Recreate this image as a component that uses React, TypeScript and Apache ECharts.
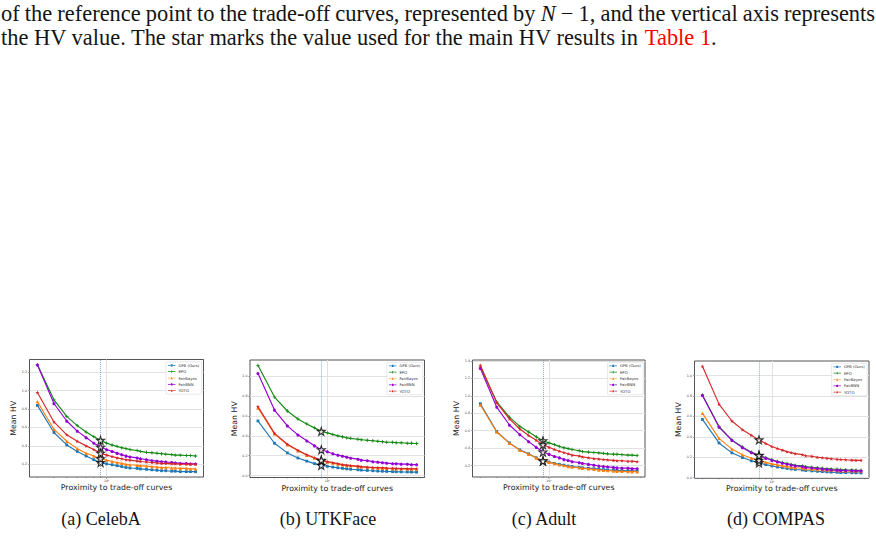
import React, { useEffect, useRef } from "react";
import * as echarts from "echarts";

// ---- text ----
const paragraphLine1 =
  "of the reference point to the trade-off curves, represented by N − 1, and the vertical axis represents";
const paragraphLine2Lead = "the HV value. The star marks the value used for the main HV results in ";
const paragraphLine2Link = "Table 1";
const paragraphLine2Tail = ".";
const captions = ["(a) CelebA", "(b) UTKFace", "(c) Adult", "(d) COMPAS"];

// ---- shared series info ----
const methods = ["GFB (Ours)", "EPO", "FairBayes", "FairBNN", "YOTO"];
const proximity = [3, 4, 5, 6, 7, 8, 9, 10, 11, 12, 13, 14, 15, 17, 18, 20, 22, 24, 26, 28, 31, 33, 36, 40, 43, 47];
const xTickValues = [3, 4, 5, 6, 7, 8, 9, 10, 20, 30, 40, 50];
const starProximity = [9, 9, 9, 8];

// ---- CelebA ----
const celebaGfb = [0.84, 0.545, 0.41, 0.34, 0.29, 0.25, 0.22, 0.205, 0.195, 0.185, 0.175, 0.165, 0.16, 0.155, 0.15, 0.145, 0.14, 0.135, 0.13, 0.13, 0.125, 0.125, 0.12, 0.12, 0.12, 0.12];
const celebaEpo = [1.28, 0.9, 0.72, 0.62, 0.55, 0.5, 0.46, 0.43, 0.41, 0.395, 0.38, 0.37, 0.36, 0.35, 0.34, 0.33, 0.325, 0.32, 0.315, 0.31, 0.305, 0.3, 0.3, 0.295, 0.295, 0.29];
const celebaFairBayes = [0.88, 0.58, 0.45, 0.37, 0.32, 0.29, 0.26, 0.245, 0.23, 0.22, 0.21, 0.2, 0.195, 0.19, 0.185, 0.18, 0.175, 0.17, 0.165, 0.165, 0.16, 0.16, 0.155, 0.155, 0.15, 0.15];
const celebaFairBnn = [1.28, 0.86, 0.67, 0.56, 0.49, 0.43, 0.385, 0.36, 0.34, 0.32, 0.305, 0.29, 0.28, 0.27, 0.26, 0.25, 0.24, 0.235, 0.23, 0.225, 0.22, 0.215, 0.21, 0.21, 0.205, 0.205];
const celebaYoto = [0.98, 0.66, 0.52, 0.45, 0.4, 0.36, 0.32, 0.3, 0.285, 0.27, 0.26, 0.25, 0.245, 0.235, 0.23, 0.225, 0.22, 0.215, 0.21, 0.21, 0.205, 0.205, 0.2, 0.2, 0.2, 0.2];

// ---- UTKFace ----
const utkGfb = [0.55, 0.325, 0.228, 0.177, 0.145, 0.12, 0.103, 0.093, 0.085, 0.078, 0.072, 0.067, 0.063, 0.058, 0.055, 0.051, 0.048, 0.045, 0.043, 0.041, 0.039, 0.038, 0.037, 0.036, 0.035, 0.034];
const utkEpo = [1.11, 0.79, 0.65, 0.57, 0.52, 0.48, 0.445, 0.43, 0.415, 0.4, 0.39, 0.38, 0.375, 0.365, 0.36, 0.355, 0.35, 0.345, 0.34, 0.335, 0.335, 0.33, 0.33, 0.325, 0.325, 0.323];
const utkFairBayes = [0.68, 0.42, 0.31, 0.25, 0.205, 0.175, 0.15, 0.135, 0.125, 0.115, 0.108, 0.1, 0.097, 0.09, 0.087, 0.082, 0.079, 0.076, 0.074, 0.072, 0.07, 0.068, 0.067, 0.066, 0.065, 0.065];
const utkFairBnn = [1.03, 0.66, 0.5, 0.41, 0.35, 0.3, 0.26, 0.24, 0.22, 0.205, 0.195, 0.185, 0.175, 0.165, 0.155, 0.15, 0.14, 0.135, 0.13, 0.125, 0.12, 0.12, 0.115, 0.115, 0.11, 0.11];
const utkYoto = [0.695, 0.425, 0.315, 0.255, 0.21, 0.18, 0.155, 0.14, 0.13, 0.12, 0.11, 0.105, 0.1, 0.095, 0.09, 0.085, 0.082, 0.08, 0.078, 0.075, 0.073, 0.072, 0.07, 0.07, 0.068, 0.068];

// ---- Adult ----
const adultGfb = [0.91, 0.59, 0.46, 0.38, 0.335, 0.29, 0.255, 0.24, 0.225, 0.215, 0.205, 0.195, 0.19, 0.18, 0.175, 0.17, 0.165, 0.16, 0.155, 0.15, 0.148, 0.145, 0.143, 0.14, 0.14, 0.138];
const adultEpo = [1.33, 0.93, 0.755, 0.65, 0.585, 0.53, 0.485, 0.46, 0.44, 0.42, 0.405, 0.395, 0.385, 0.37, 0.36, 0.355, 0.35, 0.345, 0.34, 0.335, 0.33, 0.33, 0.325, 0.32, 0.32, 0.315];
const adultFairBayes = [0.895, 0.585, 0.455, 0.375, 0.33, 0.287, 0.252, 0.237, 0.222, 0.21, 0.2, 0.19, 0.183, 0.175, 0.168, 0.162, 0.156, 0.15, 0.146, 0.142, 0.138, 0.135, 0.133, 0.131, 0.13, 0.13];
const adultFairBnn = [1.315, 0.87, 0.665, 0.555, 0.475, 0.41, 0.355, 0.33, 0.305, 0.29, 0.27, 0.26, 0.245, 0.235, 0.225, 0.215, 0.205, 0.195, 0.19, 0.185, 0.18, 0.175, 0.17, 0.17, 0.165, 0.165];
const adultYoto = [1.35, 0.92, 0.735, 0.62, 0.545, 0.49, 0.44, 0.41, 0.385, 0.365, 0.35, 0.335, 0.32, 0.31, 0.3, 0.29, 0.28, 0.275, 0.27, 0.265, 0.26, 0.255, 0.255, 0.25, 0.25, 0.245];

// ---- COMPAS ----
const compasGfb = [0.57, 0.34, 0.243, 0.197, 0.165, 0.145, 0.128, 0.115, 0.105, 0.097, 0.09, 0.085, 0.08, 0.075, 0.07, 0.066, 0.062, 0.059, 0.056, 0.054, 0.052, 0.05, 0.049, 0.048, 0.047, 0.046];
const compasEpo = [0.81, 0.5, 0.37, 0.3, 0.25, 0.22, 0.195, 0.175, 0.16, 0.148, 0.138, 0.13, 0.122, 0.115, 0.108, 0.102, 0.097, 0.092, 0.088, 0.085, 0.082, 0.08, 0.077, 0.075, 0.073, 0.072];
const compasFairBayes = [0.63, 0.385, 0.28, 0.225, 0.19, 0.17, 0.15, 0.135, 0.125, 0.115, 0.108, 0.102, 0.097, 0.092, 0.087, 0.083, 0.079, 0.076, 0.073, 0.071, 0.069, 0.067, 0.065, 0.064, 0.063, 0.062];
const compasFairBnn = [0.805, 0.495, 0.365, 0.295, 0.245, 0.215, 0.19, 0.17, 0.155, 0.142, 0.132, 0.123, 0.115, 0.108, 0.1, 0.095, 0.09, 0.085, 0.08, 0.077, 0.074, 0.072, 0.07, 0.068, 0.067, 0.066];
const compasYoto = [1.09, 0.72, 0.555, 0.47, 0.415, 0.37, 0.335, 0.305, 0.285, 0.27, 0.255, 0.245, 0.235, 0.225, 0.215, 0.21, 0.2, 0.195, 0.19, 0.185, 0.18, 0.178, 0.175, 0.172, 0.17, 0.17];

const panelSeries = [
  [celebaGfb, celebaEpo, celebaFairBayes, celebaFairBnn, celebaYoto],
  [utkGfb, utkEpo, utkFairBayes, utkFairBnn, utkYoto],
  [adultGfb, adultEpo, adultFairBayes, adultFairBnn, adultYoto],
  [compasGfb, compasEpo, compasFairBayes, compasFairBnn, compasYoto],
];

// ---- layout & style ----
const W = 876;
const H = 536;
const gridBoxes = [
  { left: 29.5, top: 359.5, width: 174, height: 117.5 },
  { left: 250, top: 360, width: 174.5, height: 117.5 },
  { left: 472.5, top: 360, width: 172.5, height: 117 },
  { left: 694.5, top: 361, width: 174.5, height: 117.3 },
];
const captionCenters = [101, 328, 544, 776];
const colors = ["#1f77b4", "#138a13", "#ff7f0e", "#9400d3", "#d62728"];
const STAR =
  "path://M50,2L61.2,36.2L97.6,36.5L68.5,58.2L79.4,93L50,71.8L20.6,93L31.5,58.2L2.4,36.5L38.8,36.2Z";
const PLUS = "path://M3,0H5V3H8V5H5V8H3V5H0V3H3Z";
const PENTAGON = "path://M50,0L98,35L79,91L21,91L2,35Z";
const symbols = ["rect", PLUS, "triangle", PENTAGON, STAR];
const symbolSizes = [2.8, 3.4, 3.4, 3.3, 3.9];
// legend keys: short line, marker, short line (20 x 8 box)
const KEY_LINE = "M0,3.1H6.2V4.9H0Z M13.8,3.1H20V4.9H13.8Z";
const legendIcons = [
  `path://${KEY_LINE} M7.2,1.2H12.8V6.8H7.2Z`,
  `path://${KEY_LINE} M9.1,0.6H10.9V3.1H13.4V4.9H10.9V7.4H9.1V4.9H6.6V3.1H9.1Z`,
  `path://${KEY_LINE} M10,0.6L13.4,7.2H6.6Z`,
  `path://${KEY_LINE} M10,0.6L13.4,3.2L12.1,7.3H7.9L6.6,3.2Z`,
  `path://${KEY_LINE} M10,0.2L11.1,2.9L13.8,3.1L11.8,4.9L12.5,7.8L10,6.2L7.5,7.8L8.2,4.9L6.2,3.1L8.9,2.9Z`,
];
const SANS = '"DejaVu Sans", sans-serif';
const SERIF = '"Liberation Serif", "Times New Roman", serif';

function makeMeasure() {
  const ctx = document.createElement("canvas").getContext("2d") as CanvasRenderingContext2D;
  return (t: string, fs: number, italic = false) => {
    ctx.font = `${italic ? "italic " : ""}${fs}px "Liberation Serif"`;
    return ctx.measureText(t).width;
  };
}

function buildText() {
  const measure = makeMeasure();
  const line2Full = paragraphLine2Lead + paragraphLine2Link + paragraphLine2Tail;
  const fs = (20 * 716) / measure(line2Full, 20);
  const els: any[] = [];
  const y1 = 13;
  const y2 = 37;
  // first line: justified between 1 and 875
  const words = paragraphLine1.split(" ");
  const widths = words.map((w) => measure(w, fs, w === "N"));
  const total = widths.reduce((a, b) => a + b, 0);
  const gap = (874 - total) / (words.length - 1);
  let x = 1;
  words.forEach((w, i) => {
    els.push({
      type: "text",
      x,
      y: y1,
      silent: true,
      style: {
        text: w,
        fontSize: fs,
        fontFamily: SERIF,
        fontStyle: w === "N" ? "italic" : "normal",
        fill: "#141414",
        verticalAlign: "middle",
      },
    });
    x += widths[i] + gap;
  });
  // second line with the red reference
  const leadW = measure(paragraphLine2Lead, fs);
  const linkW = measure(paragraphLine2Link, fs);
  const parts = [
    { t: paragraphLine2Lead, x: 1, c: "#141414" },
    { t: paragraphLine2Link, x: 1 + leadW, c: "#ff0000" },
    { t: paragraphLine2Tail, x: 1 + leadW + linkW, c: "#141414" },
  ];
  parts.forEach((p) =>
    els.push({
      type: "text",
      x: p.x,
      y: y2,
      silent: true,
      style: { text: p.t, fontSize: fs, fontFamily: SERIF, fill: p.c, verticalAlign: "middle" },
    })
  );
  captions.forEach((c, i) =>
    els.push({
      type: "text",
      x: captionCenters[i],
      y: 519,
      silent: true,
      style: { text: c, fontSize: 18, fontFamily: SERIF, fill: "#141414", align: "center", verticalAlign: "middle" },
    })
  );
  return els;
}

function buildOption() {
  const grid: any[] = [];
  const xAxis: any[] = [];
  const yAxis: any[] = [];
  const series: any[] = [];
  const legend: any[] = [];

  panelSeries.forEach((values, i) => {
    const box = gridBoxes[i];
    grid.push({
      ...box,
      show: true,
      borderColor: "#2a2a2a",
      borderWidth: 0.8,
      backgroundColor: "transparent",
    });
    const all = values.flat();
    const lo = Math.min(...all);
    const hi = Math.max(...all);
    const pad = (hi - lo) * 0.05;
    const yMin = lo - pad;
    const yMax = hi + pad;
    const lx0 = Math.log10(proximity[0]);
    const lx1 = Math.log10(proximity[proximity.length - 1]);
    const lpad = (lx1 - lx0) * 0.05;
    const xMin = Math.pow(10, lx0 - lpad);
    const xMax = Math.pow(10, lx1 + lpad);

    xAxis.push({
      type: "log",
      logBase: 10,
      gridIndex: i,
      min: xMin,
      max: xMax,
      name: "Proximity to trade-off curves",
      nameLocation: "middle",
      nameGap: 6.5,
      nameTextStyle: { fontSize: 7.8, color: "#222", fontFamily: SANS },
      axisLine: { show: false },
      axisTick: { show: false },
      axisLabel: {
        formatter: (v: number) => (Math.abs(v - 10) < 1e-6 ? "10¹" : ""),
        fontSize: 3.2,
        color: "#444",
        margin: 2.2,
        fontFamily: SANS,
        showMinLabel: false,
        showMaxLabel: false,
      },
      splitLine: {
        show: true,
        showMinLine: false,
        showMaxLine: false,
        lineStyle: { color: "#e2e2e2", width: 1 },
      },
    });
    yAxis.push({
      type: "value",
      gridIndex: i,
      min: yMin,
      max: yMax,
      splitNumber: 6,
      name: "Mean HV",
      nameLocation: "middle",
      nameGap: 11.5,
      nameTextStyle: { fontSize: 7.8, color: "#222", fontFamily: SANS },
      axisLine: { show: false },
      axisTick: { show: true, length: 1.4, lineStyle: { color: "#333", width: 0.5 } },
      axisLabel: {
        formatter: (v: number) => v.toFixed(1),
        fontSize: 3.3,
        color: "#444",
        margin: 2.4,
        fontFamily: SANS,
        showMinLabel: false,
        showMaxLabel: false,
      },
      splitLine: {
        show: true,
        showMinLine: false,
        showMaxLine: false,
        lineStyle: { color: "#e2e2e2", width: 1 },
      },
    });

    const starX = starProximity[i];
    const starIdx = proximity.indexOf(starX);

    methods.forEach((m, k) => {
      series.push({
        type: "line",
        name: m,
        xAxisIndex: i,
        yAxisIndex: i,
        data: proximity.map((x, j) => [x, values[k][j]]),
        symbol: symbols[k],
        symbolSize: symbolSizes[k],
        showSymbol: true,
        lineStyle: { color: colors[k], width: 1.15 },
        itemStyle: { color: colors[k] },
        z: 3 + k,
        silent: true,
        markLine:
          k === 0
            ? {
                silent: true,
                symbol: "none",
                label: { show: false },
                lineStyle: { color: "#4a8cc8", type: [1, 1], width: 0.7 },
                data: [{ xAxis: starX }],
              }
            : undefined,
      });
    });

    // hollow stars on each curve at the chosen proximity
    series.push({
      type: "scatter",
      name: "selected",
      xAxisIndex: i,
      yAxisIndex: i,
      data: methods.map((_, k) => [starX, values[k][starIdx]]),
      symbol: STAR,
      symbolSize: 8,
      itemStyle: { color: "#ffffff", borderColor: "#000", borderWidth: 1.1 },
      z: 20,
      silent: true,
    });

    // log-axis tick marks (major at decades, minor in between)
    series.push({
      type: "custom",
      name: "ticks",
      xAxisIndex: i,
      yAxisIndex: i,
      silent: true,
      clip: false,
      z: 2,
      data: xTickValues.map((v) => [v, Math.log10(v) % 1 === 0 ? 1 : 0]),
      renderItem: (_p: any, api: any) => {
        const v = api.value(0);
        const major = api.value(1) === 1;
        const pt = api.coord([v, yMin]);
        return {
          type: "line",
          shape: { x1: pt[0], y1: pt[1], x2: pt[0], y2: pt[1] + (major ? 1.8 : 1.1) },
          style: { stroke: "#333", lineWidth: major ? 0.5 : 0.35 },
        };
      },
    });

    legend.push({
      data: methods.map((m, k) => ({ name: m, icon: legendIcons[k] })),
      orient: "vertical",
      right: W - (box.left + box.width) + 1.8,
      top: box.top + 2.3,
      itemWidth: 7.5,
      itemHeight: 3.2,
      itemGap: 2.3,
      padding: [1.6, 2.4, 1.6, 2],
      textStyle: { fontSize: 3.8, color: "#333", fontFamily: SANS, padding: [0, 0, 0, -2] },
      borderColor: "#d4d4d4",
      borderWidth: 0.5,
      borderRadius: 1,
      backgroundColor: "rgba(255,255,255,0.9)",
      selectedMode: false,
    });
  });

  return {
    animation: false,
    backgroundColor: "#ffffff",
    grid,
    xAxis,
    yAxis,
    series,
    legend,
    graphic: buildText(),
  };
}

export default function App() {
  const ref = useRef<HTMLDivElement>(null);
  useEffect(() => {
    if (!ref.current) return;
    const chart = echarts.init(ref.current, null, { renderer: "svg", width: W, height: H });
    chart.setOption(buildOption());
    return () => chart.dispose();
  }, []);
  return (
    <div
      ref={ref}
      style={{ position: "fixed", left: 0, top: 0, width: W, height: H, background: "#fff" }}
    />
  );
}
